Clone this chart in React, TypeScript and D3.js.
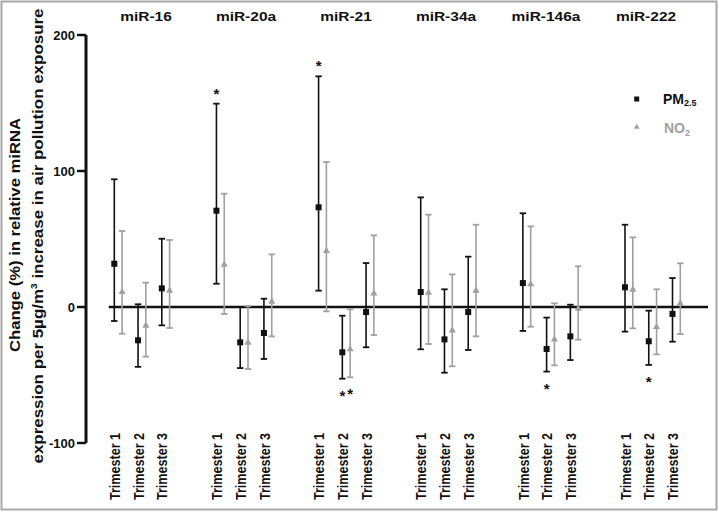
import React from 'react';
import * as d3 from 'd3';

const groups = ['miR-16', 'miR-20a', 'miR-21', 'miR-34a', 'miR-146a', 'miR-222'];
const trimesters = ['Trimester 1', 'Trimester 2', 'Trimester 3'];
const series = ['PM2.5', 'NO2'];
const yTicks = [-100, 0, 100, 200];

// group-major order: miR-16 T1, T2, T3, miR-20a T1, ...
const pm25Mean = [31.8, -24.5, 13.7, 70.8, -26, -19.1, 73.3, -33.3, -3.7, 11, -23.8, -3.7, 17.6, -30.9, -21.6, 14.5, -25.2, -5.1];
const pm25Low = [-10.3, -44, -13.5, 17.1, -44.9, -38.2, 12, -52.7, -29.6, -31.1, -48.3, -31.6, -17.6, -47.5, -39, -18.1, -42.6, -25.5];
const pm25High = [93.9, 2, 50.2, 149.5, 0, 6.1, 169.6, -6.4, 32.3, 80.6, 13, 37, 68.9, -7.8, 1.7, 60.5, -2.7, 21.3];
const no2Mean = [11, -13.7, 12, 31.1, -26.2, 3.9, 41.2, -31.1, 10, 10.5, -17.2, 12, 16.7, -23.8, -1.2, 12.7, -14.7, 2.7];
const no2Low = [-19.6, -36.5, -15.4, -5.1, -45.6, -21.6, -3.2, -51.7, -20.6, -27.2, -43.6, -21.6, -14.5, -42.9, -24, -15.7, -34.8, -19.9];
const no2High = [55.9, 17.9, 49.3, 83.3, 0.7, 38.7, 106.6, -1.7, 52.7, 67.9, 24, 60.5, 59.3, 2.7, 29.9, 51.2, 13, 32.1];

// significance markers
const sigGroup = ['miR-20a', 'miR-21', 'miR-21', 'miR-21', 'miR-146a', 'miR-222'];
const sigTrimester = ['Trimester 1', 'Trimester 1', 'Trimester 2', 'Trimester 2', 'Trimester 2', 'Trimester 2'];
const sigSeries = ['PM2.5', 'PM2.5', 'PM2.5', 'NO2', 'PM2.5', 'PM2.5'];

const BLACK = '#111';
const GRAY = '#a0a0a0';
const FONT = '"Liberation Sans", Arial, sans-serif';

export default function App() {
  const W = 719, H = 512;
  const y = d3.scaleLinear().domain([-100, 200]).range([443, 35]);
  const outer = d3.scalePoint<string>().domain(groups).range([114.3, 625]);
  const inner = d3.scalePoint<string>().domain(trimesters).range([0, 47.5]);
  const sOff = d3.scalePoint<string>().domain(series).range([0, 7.8]);
  const titleX = d3.scalePoint<string>().domain(groups).range([146, 646]);
  const xPos = (g: string, t: string, s: string) => (outer(g) as number) + (inner(t) as number) + (sOff(s) as number);

  const rows: any[] = [];
  groups.forEach((g, gi) => {
    trimesters.forEach((t, ti) => {
      const i = gi * 3 + ti;
      rows.push({ g, t, s: 'PM2.5', mean: pm25Mean[i], lo: pm25Low[i], hi: pm25High[i] });
      rows.push({ g, t, s: 'NO2', mean: no2Mean[i], lo: no2Low[i], hi: no2High[i] });
    });
  });
  const findRow = (g: string, t: string, s: string) => rows.find(r => r.g === g && r.t === t && r.s === s);
  const tri = d3.symbol().type(d3.symbolTriangle).size(22)() as string;
  const triLegend = d3.symbol().type(d3.symbolTriangle).size(14)() as string;
  const capW = 3.2;

  return (
    <svg width={W} height={H} style={{ position: 'absolute', left: 0, top: 0, background: '#fff' }} fontFamily={FONT}>
      <rect x={0} y={0} width={W} height={H} fill="#fff" />
      <rect x={1.5} y={1.5} width={715} height={508} fill="none" stroke="#a8a8a8" strokeWidth={2} />

      {/* y axis */}
      <line x1={86} x2={86} y1={y(-100)} y2={y(200)} stroke={BLACK} strokeWidth={3} />
      {yTicks.map(v => (
        <g key={v}>
          <line x1={77} x2={86} y1={y(v)} y2={y(v)} stroke={BLACK} strokeWidth={2.5} />
          <text x={75} y={y(v)} dy="0.36em" textAnchor="end" fontSize={13} fontWeight="bold" fill={BLACK}>{v}</text>
        </g>
      ))}
      {/* zero line */}
      <line x1={108.7} x2={708} y1={y(0)} y2={y(0)} stroke={BLACK} strokeWidth={2.5} />

      {/* y axis title */}
      <text transform={`translate(15,235) rotate(-90)`} dy="0.36em" textAnchor="middle" fontSize={15} fontWeight="bold" fill={BLACK}
        textLength={234} lengthAdjust="spacingAndGlyphs">Change (%) in relative miRNA</text>
      <text transform={`translate(38,236) rotate(-90)`} dy="0.36em" textAnchor="middle" fontSize={15} fontWeight="bold" fill={BLACK}
        textLength={455} lengthAdjust="spacingAndGlyphs">
        expression per 5µg/m<tspan fontSize={9} dy="-6">3</tspan><tspan dy="6"> increase in air pollution exposure</tspan>
      </text>

      {/* group titles */}
      {groups.map(g => (
        <text key={g} x={titleX(g)} y={20.5} textAnchor="middle" fontSize={13} fontWeight="bold" fill={BLACK}
          textLength={g.length * 8.6} lengthAdjust="spacingAndGlyphs">{g}</text>
      ))}

      {/* trimester labels */}
      {groups.map(g => trimesters.map(t => (
        <text key={g + t} transform={`translate(${xPos(g, t, 'PM2.5') + 0.5},500) rotate(-90)`} dy="0.37em" fontSize={14}
          fontWeight="bold" fill={BLACK} textLength={67} lengthAdjust="spacingAndGlyphs">{t}</text>
      )))}

      {/* error bars */}
      {rows.map((r, i) => {
        const x = xPos(r.g, r.t, r.s);
        const c = r.s === 'PM2.5' ? BLACK : GRAY;
        return (
          <g key={i}>
            <line x1={x} x2={x} y1={y(r.lo)} y2={y(r.hi)} stroke={c} strokeWidth={1.6} />
            <line x1={x - capW} x2={x + capW} y1={y(r.lo)} y2={y(r.lo)} stroke={c} strokeWidth={1.8} />
            <line x1={x - capW} x2={x + capW} y1={y(r.hi)} y2={y(r.hi)} stroke={c} strokeWidth={1.8} />
            {r.s === 'PM2.5'
              ? <rect x={x - 3} y={y(r.mean) - 3} width={6} height={6} fill={BLACK} />
              : <path d={tri} transform={`translate(${x},${y(r.mean)})`} fill={GRAY} />}
          </g>
        );
      })}

      {/* significance stars */}
      {sigGroup.map((g, i) => {
        const r = findRow(g, sigTrimester[i], sigSeries[i]);
        const x = xPos(g, sigTrimester[i], sigSeries[i]);
        const above = r.mean > 0;
        const yy = above ? y(r.hi) - 5 : y(r.lo) + 22;
        return <text key={i} x={x} y={yy} textAnchor="middle" fontSize={15} fontWeight="bold" fill={BLACK}>*</text>;
      })}

      {/* legend */}
      <rect x={634.2} y={96.5} width={5} height={5} fill={BLACK} />
      <text x={663} y={104} fontSize={14} fontWeight="bold" fill={BLACK}>PM<tspan fontSize={9} dy="2">2.5</tspan></text>
      <path d={triLegend} transform={`translate(636.7,127)`} fill={GRAY} />
      <text x={664} y={133} fontSize={14} fontWeight="bold" fill={GRAY}>NO<tspan fontSize={9} dy="3">2</tspan></text>
    </svg>
  );
}
